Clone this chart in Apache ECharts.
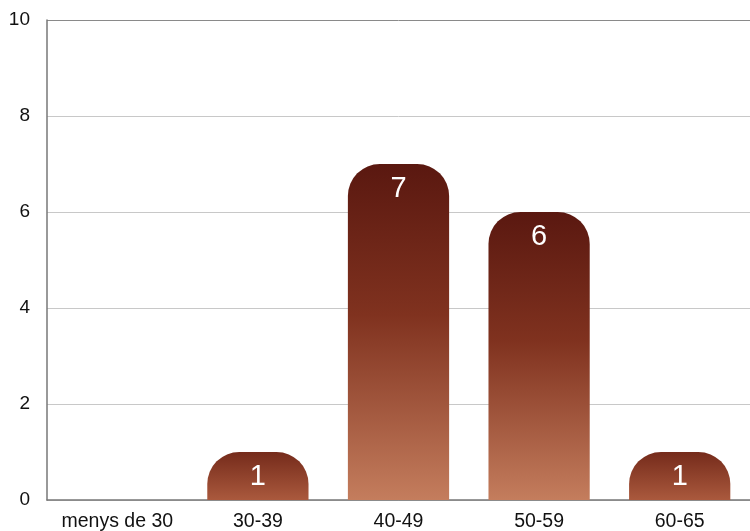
<!DOCTYPE html>
<html>
<head>
<meta charset="utf-8">
<script src="https://cdn.jsdelivr.net/npm/echarts@6/dist/echarts.min.js"></script>
<style>
  html, body { margin: 0; padding: 0; background: #fff; }
  #chart { width: 750px; height: 531px; }
</style>
</head>
<body>
<div id="chart"></div>
<script>
// Age groups and head counts
const categories = ['menys de 30', '30-39', '40-49', '50-59', '60-65'];
const counts = [0, 1, 7, 6, 1];
const yTicks = [0, 2, 4, 6, 8, 10];

// Brown gradient: tall bars run from a deep top to a light terracotta base,
// short bars stay within a narrower band of the same ramp.
function barFill(params) {
  const tall = params.value >= 4;
  const stops = tall
    ? [{ offset: 0, color: '#5a1810' }, { offset: 0.45, color: '#80321f' }, { offset: 1, color: '#c47d5d' }]
    : [{ offset: 0, color: '#752b1b' }, { offset: 1, color: '#aa593d' }];
  return new echarts.graphic.LinearGradient(0, 0, 0, 1, stops);
}

// Grid lines are light grey; the top one closes the frame in a darker tone.
const gridColors = yTicks.map((t, i) => (i === yTicks.length - 1 ? '#8a8a8a' : '#c8c8c8'));

const font = 'Liberation Sans, Helvetica, Arial';
const chart = echarts.init(document.getElementById('chart'), null, { renderer: 'canvas' });
chart.setOption({
  animation: false,
  grid: { left: 47, right: 0, top: 20, bottom: 31, containLabel: false, outerBoundsMode: 'none' },
  xAxis: {
    type: 'category',
    data: categories,
    axisLine: { lineStyle: { color: '#777', width: 1.5 } },
    axisTick: { show: false },
    axisLabel: { color: '#111', fontFamily: font, fontSize: 19.5, margin: 12, interval: 0, hideOverlap: false }
  },
  yAxis: {
    type: 'value',
    min: yTicks[0],
    max: yTicks[yTicks.length - 1],
    interval: yTicks[1] - yTicks[0],
    axisLine: { show: true, lineStyle: { color: '#777', width: 1.5 } },
    axisTick: { show: false },
    axisLabel: { color: '#111', fontFamily: font, fontSize: 19, margin: 17 },
    splitLine: { lineStyle: { color: gridColors, width: 1 } }
  },
  series: [{
    type: 'bar',
    data: counts,
    barCategoryGap: '28%',
    itemStyle: { color: barFill, borderRadius: [32, 32, 0, 0] },
    label: {
      show: true,
      position: 'insideTop',
      distance: 10,
      color: '#fff',
      fontFamily: font,
      fontSize: 29,
      formatter: (p) => (p.value > 0 ? String(p.value) : '')
    }
  }]
});
</script>
</body>
</html>
